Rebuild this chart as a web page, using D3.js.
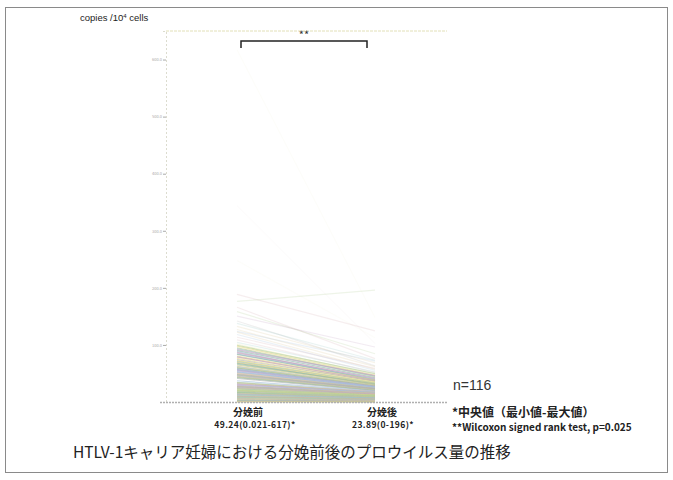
<!DOCTYPE html>
<html lang="ja">
<head>
<meta charset="UTF-8">
<title>HTLV-1 provirus load</title>
<script src="https://d3js.org/d3.v7.min.js"></script>
<style>
    body { margin: 0; background: #fff; }
    svg text { font-family: "Noto Sans CJK JP", "Liberation Sans", sans-serif; }
</style>
</head>
<body>
<svg width="673" height="480"></svg>
<script>

    // timepoints
    const groups = ["分娩前", "分娩後"];
    const groupStats = ["49.24(0.021-617)*", "23.89(0-196)*"];

    // provirus load, copies /10^4 cells (one entry per subject, n=116)
    const before = [
        0.021, 12.4, 85.8, 88.2, 5.6, 49.5, 142.0, 21.3, 67.9, 3.1,
        27.5, 104.6, 9.8, 58.3, 176.2, 14.7, 41.2, 76.4, 1.9, 31.6,
        95.1, 7.3, 48.9, 123.8, 18.6, 62.7, 2.6, 68.4, 83.5, 24.9,
        617, 11.2, 54.6, 29.7, 158.3, 6.4, 45.1, 71.8, 16.3, 113.5,
        33.9, 4.2, 91.7, 52.4, 20.1, 132.6, 8.7, 43.6, 66.2, 26.8,
        248.0, 13.5, 57.1, 37.2, 99.4, 0.8, 47.3, 80.6, 22.7, 165.9,
        10.4, 61.5, 30.8, 118.2, 15.9, 50.8, 74.3, 3.8, 90.1, 86.9,
        19.4, 137.7, 28.6, 55.9, 7.9, 69.4, 44.2, 101.3, 25.3, 12.9,
        64.8, 34.5, 150.6, 2.2, 48.1, 79.2, 17.5, 59.6, 59.3, 108.7,
        23.6, 93.4, 5.1, 51.7, 32.4, 127.1, 14.1, 72.5, 42.8, 188.5,
        9.2, 56.8, 56.1, 84.1, 20.9, 60.4, 46.5, 97.8, 27.1, 344.0,
        1.4, 70.7, 78.9, 53.2, 16.8, 122.3
    ];
    const after = [
        0, 6.8, 41.5, 37.9, 2.4, 22.6, 63.4, 12.1, 30.2, 1.5,
        15.3, 52.8, 4.9, 26.1, 196, 8.2, 19.7, 35.6, 0.6, 18.4,
        44.7, 3.6, 23.2, 71.5, 9.9, 29.4, 1.1, 32.8, 39.0, 13.6,
        148.2, 5.7, 24.3, 16.9, 84.6, 3.0, 22.1, 33.5, 7.8, 58.9,
        17.2, 2.1, 46.3, 25.6, 10.5, 68.7, 4.3, 20.8, 31.9, 14.2,
        112.4, 7.1, 27.3, 18.9, 49.6, 0.3, 23.5, 38.2, 11.6, 76.0,
        5.2, 28.8, 16.1, 55.4, 8.6, 24.08, 36.3, 1.8, 42.6, 40.7,
        9.4, 73.1, 14.8, 26.7, 4.0, 31.2, 21.4, 47.9, 12.7, 6.3,
        30.6, 17.8, 96.3, 0.9, 23.7, 37.1, 8.9, 28.1, 27.8, 51.4,
        11.9, 45.2, 2.7, 24.6, 16.5, 62.0, 7.4, 34.4, 20.3, 124.7,
        4.6, 26.9, 26.4, 39.8, 10.8, 28.5, 22.9, 46.8, 13.9, 102.5,
        0.7, 33.0, 37.6, 25.1, 8.1, 57.3
    ];
    const yTicks = [100, 200, 300, 400, 500, 600];

    const lineColors = ["#c8c98c", "#9cc7c6", "#c6a4c6", "#a6bfdc", "#b3cf98",
                        "#dac79c", "#b4b4b4", "#e2d98a", "#8fb7a9", "#d4b0b8"];

    const svg = d3.select("svg");

    // outer frame
    svg.append("rect")
        .attr("x", 5.5).attr("y", 7.5)
        .attr("width", 662).attr("height", 465)
        .attr("fill", "none")
        .attr("stroke", "#8a8a8a")
        .attr("stroke-width", 1);

    const x = d3.scalePoint().domain(groups).range([237, 375]);
    const y = d3.scaleLinear().domain([0, 650]).range([402, 31]);

    // top line of the plot
    svg.append("line")
        .attr("x1", 166).attr("x2", 447)
        .attr("y1", y(650)).attr("y2", y(650))
        .attr("stroke", "#e2e0b8").attr("stroke-dasharray", "3,1");

    const yAxis = svg.append("g")
        .attr("transform", "translate(166,0)")
        .call(d3.axisLeft(y).tickValues(yTicks).tickSize(3).tickFormat(d3.format(".1f")));
    yAxis.select(".domain")
        .attr("stroke", "#dcdccf")
        .attr("stroke-dasharray", "2,2");
    yAxis.selectAll(".tick line").attr("stroke", "#aaa");
    yAxis.selectAll(".tick text")
        .attr("fill", "#aaa")
        .attr("font-size", 4)
        .attr("x", -4);

    // paired lines
    const pairs = before.map((b, i) => ({ b: b, a: after[i], i: i }));
    // draw larger values first so the dense low band sits on top
    pairs.sort((p, q) => q.b - p.b);

    svg.append("g")
        .selectAll("line")
        .data(pairs)
        .join("line")
        .attr("x1", x(groups[0]))
        .attr("x2", x(groups[1]))
        .attr("y1", d => y(d.b))
        .attr("y2", d => y(d.a))
        .attr("stroke", d => lineColors[d.i % lineColors.length])
        .attr("stroke-width", 1.2)
        .attr("stroke-opacity", d => d.b > 200 ? 0.04 : d.b > 100 ? 0.22 : 0.6);

    // baseline
    svg.append("line")
        .attr("x1", 160).attr("x2", 447)
        .attr("y1", y(0) + 0.5).attr("y2", y(0) + 0.5)
        .attr("stroke", "#b0b0b0").attr("stroke-width", 1.5)
        .attr("stroke-dasharray", "2,1");

    // significance bracket
    const bracketY = 41;
    svg.append("path")
        .attr("d", `M${x(groups[0]) + 4},${bracketY + 7}V${bracketY}H${x(groups[1]) - 8}V${bracketY + 7}`)
        .attr("fill", "none")
        .attr("stroke", "#222")
        .attr("stroke-width", 1.5);
    svg.append("text")
        .attr("x", 304).attr("y", bracketY - 2)
        .attr("text-anchor", "middle")
        .attr("font-size", 11)
        .attr("fill", "#333")
        .text("**");

    // y unit label
    const unit = svg.append("text")
        .attr("x", 80).attr("y", 21)
        .style("font-family", "Liberation Sans, sans-serif")
        .attr("font-size", 9.5)
        .attr("fill", "#222");
    unit.append("tspan").text("copies /10");
    unit.append("tspan").attr("font-size", 6).attr("dy", -3).text("4");
    unit.append("tspan").attr("dy", 3).text(" cells");

    // category labels
    const labelX = [248, 382];
    const statX = [255, 383];
    groups.forEach((g, i) => {
        svg.append("text")
            .attr("x", labelX[i]).attr("y", 416)
            .attr("text-anchor", "middle")
            .attr("font-size", 10).attr("font-weight", "bold")
            .attr("fill", "#222")
            .text(g);
        svg.append("text")
            .attr("x", statX[i]).attr("y", 428)
            .attr("text-anchor", "middle")
            .attr("font-size", 8.5).attr("font-weight", "bold")
            .attr("letter-spacing", 0.4)
            .attr("fill", "#222")
            .text(groupStats[i]);
    });

    svg.append("text")
        .attr("x", 453).attr("y", 390)
        .style("font-family", "Liberation Sans, sans-serif")
        .attr("font-size", 14)
        .attr("fill", "#333")
        .text("n=" + before.length);

    svg.append("text")
        .attr("x", 452).attr("y", 417)
        .attr("font-size", 12).attr("font-weight", "bold")
        .attr("fill", "#222")
        .text("*中央値（最小値-最大値）");
    svg.append("text")
        .attr("x", 452).attr("y", 431)
        .attr("font-size", 10).attr("font-weight", "bold")
        .attr("fill", "#222")
        .text("**Wilcoxon signed rank test, p=0.025");

    // caption
    svg.append("text")
        .attr("x", 73).attr("y", 458)
        .attr("font-size", 15.5)
        .attr("fill", "#222")
        .text("HTLV-1キャリア妊婦における分娩前後のプロウイルス量の推移");

</script>
</body>
</html>
